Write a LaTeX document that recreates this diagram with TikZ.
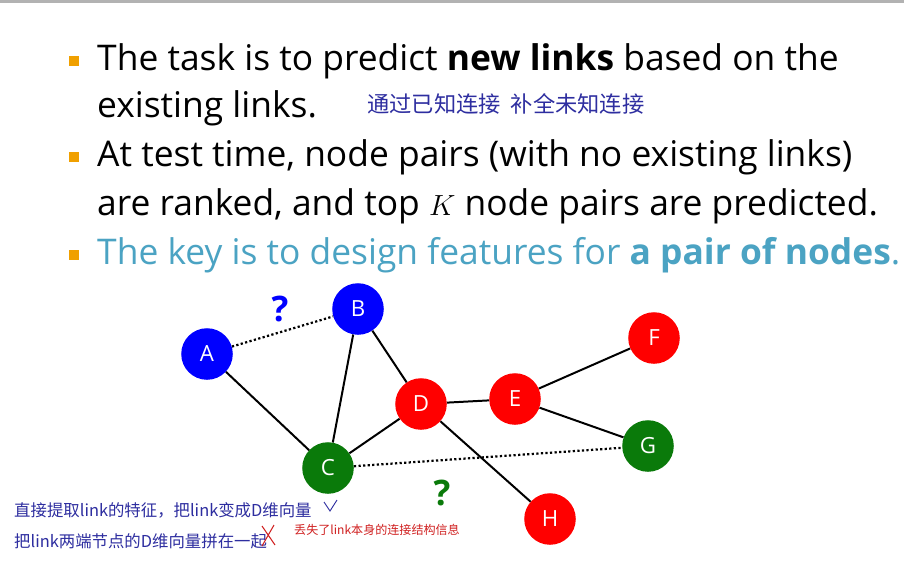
\documentclass[tikz,border=0pt]{standalone}
\usepackage{fontspec}
\setmainfont{Open Sans}
\newfontfamily\cjk{Noto Sans CJK SC}
\definecolor{bullet}{HTML}{F0A000}
\definecolor{keyblue}{HTML}{4BA3C3}
\definecolor{ink}{HTML}{2E2EA0}
\definecolor{redink}{HTML}{D02020}
\definecolor{nodegreen}{HTML}{0A7A0A}
\tikzset{
  vertex/.style={circle, draw=none, minimum size=44, inner sep=0pt, text=white, font=\fontsize{19}{19}\selectfont},
  bullettext/.style={anchor=west, inner sep=0pt, font=\fontsize{30.2}{30.2}\selectfont},
  bulletbox/.style={fill=bullet, minimum size=9, inner sep=0pt},
  hand/.style={anchor=west, inner sep=0pt, text=ink, font=\cjk\fontsize{14}{14}\selectfont},
  link/.style={line width=1.7pt},
  guess/.style={line width=1.9pt, dotted}
}
\begin{document}
\begin{tikzpicture}[x=0.03cm, y=-0.03cm]
\useasboundingbox (0,0) rectangle (904,561);
\fill[white] (0,0) rectangle (904,561);
\fill[gray!60] (0,0) rectangle (904,3);

% bullets
\foreach \y in {61,157,255} \node[bulletbox] at (74,\y) {};
\node[bullettext] (t1) at (97,61) {The task is to predict \textbf{new links} based on the};
\node[bullettext] (t2) at (97,108) {existing links.};
\node[bullettext] (t3) at (97,157) {At test time, node pairs (with no existing links)};
\node[bullettext] (t4) at (97,206) {are ranked, and top $K$ node pairs are predicted.};
\node[bullettext, text=keyblue] (t5) at (97,255) {The key is to design features for \textbf{a pair of nodes}.};

% graph
\node[vertex, fill=blue] (A) at (207,354) {A};
\node[vertex, fill=blue] (B) at (358,309) {B};
\node[vertex, fill=nodegreen] (C) at (328,468) {C};
\node[vertex, fill=red] (D) at (421,404) {D};
\node[vertex, fill=red] (E) at (515,399) {E};
\node[vertex, fill=red] (F) at (654,338) {F};
\node[vertex, fill=nodegreen] (G) at (648,446) {G};
\node[vertex, fill=red] (H) at (550,519) {H};

\draw[link] (A) -- (C);
\draw[link] (B) -- (C);
\draw[link] (B) -- (D);
\draw[link] (C) -- (D);
\draw[link] (D) -- (E);
\draw[link] (D) -- (H);
\draw[link] (E) -- (F);
\draw[link] (E) -- (G);
\draw[guess] (A) -- (B);
\draw[guess] (C) -- (G);
\node[text=blue, font=\bfseries\fontsize{30}{30}\selectfont] (q1) at (280,309) {?};
\node[text=nodegreen, font=\bfseries\fontsize{30}{30}\selectfont] (q2) at (442,493) {?};

% handwritten notes
\node[hand, font=\cjk\fontsize{19}{19}\selectfont] (n0) at (367,104) {通过已知连接\ \ 补全未知连接};
\node[hand] (n1) at (14,510) {直接提取link的特征，把link变成D维向量};
\node[hand] (n2) at (14,541) {把link两端节点的D维向量拼在一起};
\node[hand, text=redink, font=\cjk\fontsize{10.3}{10.3}\selectfont] (n3) at (294,530) {丢失了link本身的连接结构信息};
\draw[ink, line width=0.8pt] (324,502) -- (330,511) -- (337,500);
\draw[redink, line width=0.9pt] (262,526) -- (275,545) (274,525) -- (262,546);
\end{tikzpicture}
\end{document}
